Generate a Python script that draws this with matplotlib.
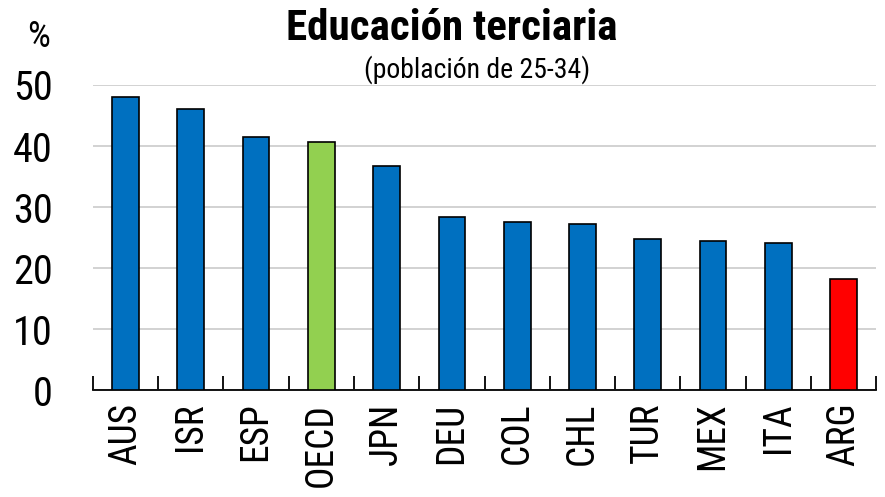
import matplotlib
matplotlib.use("Agg")
import matplotlib.pyplot as plt
import numpy as np

# tertiary education, population aged 25-34, %
countries = ["AUS", "ISR", "ESP", "OECD", "JPN", "DEU", "COL", "CHL", "TUR", "MEX", "ITA", "ARG"]
values = [48.1, 46.0, 41.5, 40.6, 36.7, 28.3, 27.6, 27.2, 24.7, 24.5, 24.1, 18.2]
colors = ["#0070C0"] * 12
colors[3] = "#92D050"
colors[11] = "#FF0000"

plt.rcParams['font.family'] = ['Roboto Condensed', 'Liberation Sans', 'DejaVu Sans']

fig = plt.figure(figsize=(8.85, 4.97), dpi=100)
ax = fig.add_axes([0.105, 0.215, 0.885, 0.614])

x = np.arange(len(countries))
ax.bar(x, values, width=0.41, color=colors, edgecolor="black", linewidth=1.2, zorder=3)

ax.set_xlim(-0.5, len(countries) - 0.5)
ax.set_ylim(0, 50)
ax.set_yticks(range(0, 51, 10))
ax.yaxis.grid(True, color="#CFCFCF", linewidth=1.3, zorder=0)
ax.tick_params(axis="y", length=0, pad=29, labelsize=29)

# category labels, ticks at the boundaries
ax.set_xticks(x)
ax.set_xticklabels(countries, rotation=90, fontsize=27)
ax.tick_params(axis="x", which="major", length=0, pad=9)
ax.set_xticks(np.arange(-0.5, len(countries)), minor=True)
ax.tick_params(axis="x", which="minor", direction="in", length=10, width=1.3, color="black")

for s in ["top", "right", "left"]:
    ax.spines[s].set_visible(False)
ax.spines["bottom"].set_linewidth(1.3)

fig.text(0.511, 0.92, "Educación terciaria", ha="center", va="baseline", fontsize=31, fontweight="bold")
fig.text(0.539, 0.843, "(población de 25-34)", ha="center", va="baseline", fontsize=20)
fig.text(0.044, 0.925, "%", ha="center", va="center", fontsize=26)

fig.savefig("out.png", dpi=100)
